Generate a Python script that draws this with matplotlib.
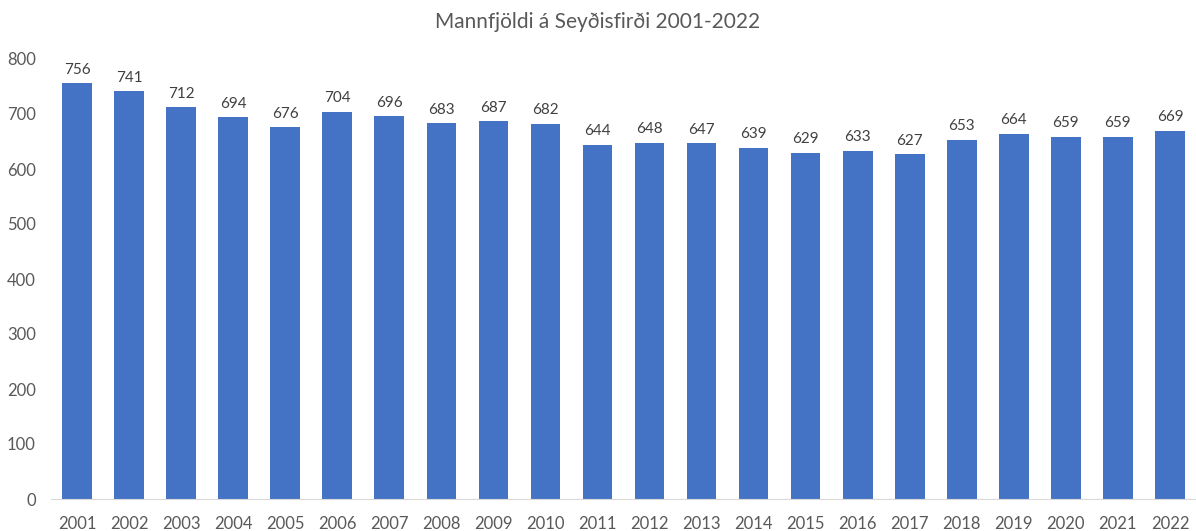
import numpy as np
import matplotlib.pyplot as plt

years = [str(y) for y in range(2001, 2023)]
population = [756, 741, 712, 694, 676, 704, 696, 683, 687, 682, 644,
              648, 647, 639, 629, 633, 627, 653, 664, 659, 659, 669]

plt.rcParams['font.family'] = ['Lato', 'DejaVu Sans']
grey = '#595959'

fig = plt.figure(figsize=(11.96, 5.31), dpi=100)
ax = fig.add_axes([51 / 1196, 1 - 499 / 531, 1145 / 1196, 440 / 531])

x = np.arange(len(years))
bars = ax.bar(x, population, width=0.57, color='#4472C4')

for xi, v in zip(x, population):
    ax.text(xi, v + 12, str(v), ha='center', va='bottom', fontsize=11, color='#404040')

ax.set_xlim(-0.5, len(years) - 0.5)
ax.set_ylim(0, 800)
ax.set_yticks(range(0, 801, 100))
ax.set_xticks(x)
ax.set_xticklabels(years)
ax.tick_params(axis='both', length=0, labelsize=12, colors=grey)
ax.tick_params(axis='x', pad=12)
ax.tick_params(axis='y', pad=11)

for s in ['top', 'right', 'left']:
    ax.spines[s].set_visible(False)
ax.spines['bottom'].set_color('#D9D9D9')

fig.text(0.5, 1 - 22 / 531, 'Mannfjöldi á Seyðisfirði 2001-2022', ha='center', va='center',
         fontsize=15, color=grey)

fig.savefig('out.png', dpi=100)
